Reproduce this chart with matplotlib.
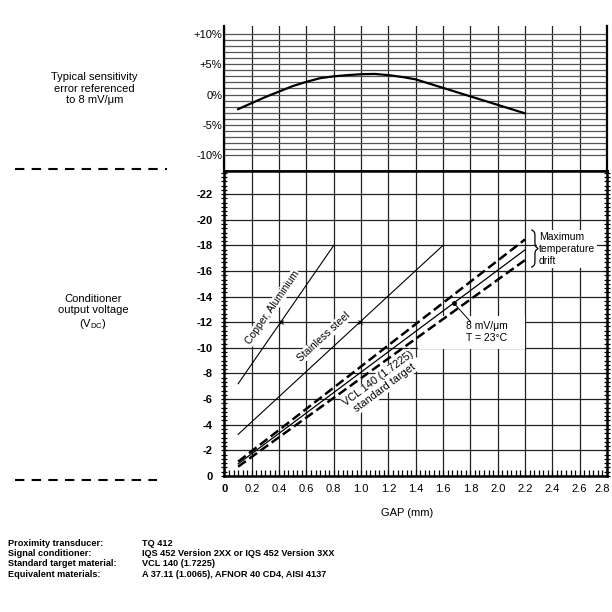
import numpy as np
import matplotlib.pyplot as plt
from matplotlib.lines import Line2D
from matplotlib.patches import Rectangle
from matplotlib.ticker import MultipleLocator, FixedLocator
from matplotlib.transforms import ScaledTranslation

plt.rcParams['font.family'] = ['Liberation Sans', 'DejaVu Sans']
plt.rcParams['mathtext.fontset'] = 'custom'
plt.rcParams['mathtext.rm'] = 'Liberation Sans'

# typical sensitivity error (%) vs gap (mm)
err_gap = [0.1, 0.2, 0.3, 0.4, 0.5, 0.6, 0.7, 0.8, 0.9, 1.0, 1.1,
           1.2, 1.3, 1.4, 1.5, 1.6, 1.7, 1.8, 1.9, 2.0, 2.1, 2.2]
err_pct = [-2.4, -1.4, -0.4, 0.5, 1.4, 2.1, 2.7, 3.0, 3.2, 3.35, 3.4,
           3.2, 2.9, 2.5, 1.8, 1.1, 0.4, -0.3, -1.0, -1.7, -2.4, -3.1]

# conditioner output voltage (V) vs gap (mm)
cu_gap = [0.1, 0.8]
cu_volt = [-7.2, -18.0]
ss_gap = [0.1, 1.6]
ss_volt = [-3.25, -18.0]
vcl_gap = [0.1, 2.2]
vcl_volt = [-0.95, -17.65]
vcl_hi = [-1.12, -18.46]
vcl_lo = [-0.73, -16.85]

x_ticks = [0, 0.2, 0.4, 0.6, 0.8, 1.0, 1.2, 1.4, 1.6, 1.8, 2.0, 2.2, 2.4, 2.6, 2.8]
x_labels = ['0', '0.2', '0.4', '0.6', '0.8', '1.0', '1.2', '1.4', '1.6', '1.8',
            '2.0', '2.2', '2.4', '2.6', '2.8']
err_ticks = [-10, -5, 0, 5, 10]
err_labels = ['-10%', '-5%', '0%', '+5%', '+10%']
volt_ticks = [0, -2, -4, -6, -8, -10, -12, -14, -16, -18, -20, -22]

info_keys = ['Proximity transducer:', 'Signal conditioner:',
             'Standard target material:', 'Equivalent materials:']
info_vals = ['TQ 412', 'IQS 452 Version 2XX or IQS 452 Version 3XX',
             'VCL 140 (1.7225)', 'A 37.11 (1.0065), AFNOR 40 CD4, AISI 4137']

W = H = 612
fig = plt.figure(figsize=(6.12, 6.12), dpi=100)


def fx(px):
    return px / W


def fy(py):
    return 1 - py / H


X0, X1 = 224.5, 607
ax_top = fig.add_axes([fx(X0), fy(171), fx(X1) - fx(X0), fy(26) - fy(171)])
ax = fig.add_axes([fx(X0), fy(476), fx(X1) - fx(X0), fy(171) - fy(476)])

# ---- top panel: sensitivity error
ax_top.set_xlim(0, 2.8)
ax_top.set_ylim(-12.6, 11.3)
ax_top.xaxis.set_major_locator(MultipleLocator(0.2))
ax_top.set_xticklabels([])
ax_top.set_yticks(err_ticks)
ax_top.set_yticklabels(err_labels, fontsize=8)
ax_top.yaxis.set_minor_locator(FixedLocator(np.arange(-10, 11, 1)))
ax_top.tick_params(axis='both', which='both', length=0)
ax_top.tick_params(axis='y', pad=1.5)
ax_top.grid(axis='x', which='major', color='#222222', lw=0.9)
ax_top.grid(axis='y', which='both', color='#555555', lw=0.9)
ax_top.spines['top'].set_visible(False)
for s in ['left', 'right']:
    ax_top.spines[s].set_linewidth(1.6)
ax_top.spines['bottom'].set_linewidth(1.8)
ax_top.plot(err_gap, err_pct, color='black', lw=1.6, zorder=3)

# ---- bottom panel: output voltage
ax.set_xlim(0, 2.8)
ax.set_ylim(0, -23.8)
ax.set_xticks(x_ticks)
ax.set_xticklabels(x_labels, fontsize=8)
ax.xaxis.set_minor_locator(MultipleLocator(0.2 / 6))
ax.set_yticks(volt_ticks)
ax.set_yticklabels([str(v) for v in volt_ticks], fontsize=8, fontweight='bold')
ax.yaxis.set_minor_locator(MultipleLocator(1 / 3))
ax.tick_params(axis='x', which='both', direction='in', length=4, width=0.9,
               top=False, pad=6)
ax.tick_params(axis='y', which='both', direction='inout', length=5, width=0.9,
               left=True, right=True, pad=6)
ax.grid(which='major', color='#222222', lw=0.9)
for s in ['left', 'right', 'bottom', 'top']:
    ax.spines[s].set_linewidth(1.8)

xt = ax.get_xticklabels()
xt[0].set_fontweight('bold')
xt[-1].set_transform(xt[-1].get_transform()
                     + ScaledTranslation(-5 / 100, 0, fig.dpi_scale_trans))

ax.plot(cu_gap, cu_volt, color='black', lw=0.8, zorder=3)
ax.plot(ss_gap, ss_volt, color='black', lw=0.8, zorder=3)
ax.plot(vcl_gap, vcl_volt, color='black', lw=0.9, zorder=3)
ax.plot(vcl_gap, vcl_hi, color='black', lw=1.8, dashes=(3.8, 1.7), zorder=3)
ax.plot(vcl_gap, vcl_lo, color='black', lw=1.8, dashes=(3.8, 1.7), zorder=3)

# cross marks on the material lines at -12 V
for g, v in [(cu_gap, cu_volt), (ss_gap, ss_volt)]:
    gx = np.interp(12, [-v[0], -v[1]], g)
    ax.plot([gx], [-12], marker='x', ms=3.5, mew=0.8, color='black', zorder=3)

# 8 mV/um reference dot
dot_v = -13.5
dot_g = np.interp(-dot_v, [-vcl_volt[0], -vcl_volt[1]], vcl_gap)
ax.plot([dot_g], [dot_v], marker='o', ms=2.5, color='black', zorder=4)
ax.plot([dot_g, 1.80], [dot_v, -12.05], color='black', lw=0.7, zorder=4)
ax.add_patch(Rectangle((1.42, -12.5), 0.78, 2.6, fc='white', ec='none',
                       zorder=1.7))
ax.text(1.77, -11.25, '8 mV/μm\nT = 23°C', ha='left', va='center',
        fontsize=7.5, linespacing=1.2, zorder=4)


def screen_angle(xs, ys):
    p = ax.transData.transform(np.column_stack([xs, ys]))
    d = p[-1] - p[0]
    return np.degrees(np.arctan2(d[1], d[0]))


box = dict(fc='white', ec='none', pad=0.6)
ax.text(0.35, -13.14, 'Copper, Aluminium', rotation=screen_angle(cu_gap, cu_volt),
        rotation_mode='anchor', ha='center', va='center', fontsize=7.5,
        bbox=box, zorder=1.8)
ax.text(0.73, -10.87, 'Stainless steel', rotation=screen_angle(ss_gap, ss_volt),
        rotation_mode='anchor', ha='center', va='center', fontsize=7.5,
        bbox=box, zorder=1.8)
ax.text(1.15, -7.23, 'VCL 140 (1.7225)\nstandard target',
        rotation=screen_angle(vcl_gap, vcl_volt), rotation_mode='anchor',
        ha='center', va='center', fontsize=7.8, linespacing=1.15,
        bbox=box, zorder=1.8)
ax.text(2.30, -17.73, 'Maximum\ntemperature\ndrift', ha='left', va='center',
        fontsize=7.5, linespacing=1.25, bbox=dict(fc='white', ec='none', pad=1.5),
        zorder=1.8)

# curly brace for the temperature drift
yb0, yb1, bw, bx = -19.2, -16.3, 0.045, 2.25
u = np.linspace(0, 1, 60)
half = 1 / (1 + np.exp(-18 * (u - u[0]))) + 1 / (1 + np.exp(-18 * (u - u[-1])))
full = np.concatenate([half, half[::-1]])
by = np.linspace(yb0, yb1, full.size)
ax.plot(bx + bw * (full - 0.5), by, color='black', lw=0.9, zorder=4)

# ---- labels outside the plot
fig.text(fx(406.7), fy(513.3), 'GAP (mm)', ha='center', va='center', fontsize=8)
fig.text(fx(94.7), fy(88.5), 'Typical sensitivity\nerror referenced\nto 8 mV/μm',
         ha='center', va='center', fontsize=8, linespacing=1.2)
fig.text(fx(93), fy(312.5), 'Conditioner\noutput voltage\n(V$_{\\mathrm{DC}}$)',
         ha='center', va='center', fontsize=8, linespacing=1.2)

for y0, xa, xb in [(169, 15, 167), (480, 15, 157)]:
    fig.add_artist(Line2D([fx(xa), fx(xb)], [fy(y0), fy(y0)],
                          transform=fig.transFigure, color='black', lw=1.5,
                          dashes=(4.5, 3.5)))

for i, (k, v) in enumerate(zip(info_keys, info_vals)):
    yy = fy(543.3 + i * 10.35)
    fig.text(fx(8.3), yy, k, fontsize=6.6, fontweight='bold', va='center')
    fig.text(fx(141.7), yy, v, fontsize=6.6, fontweight='bold', va='center')

fig.savefig('out.png', dpi=100)
